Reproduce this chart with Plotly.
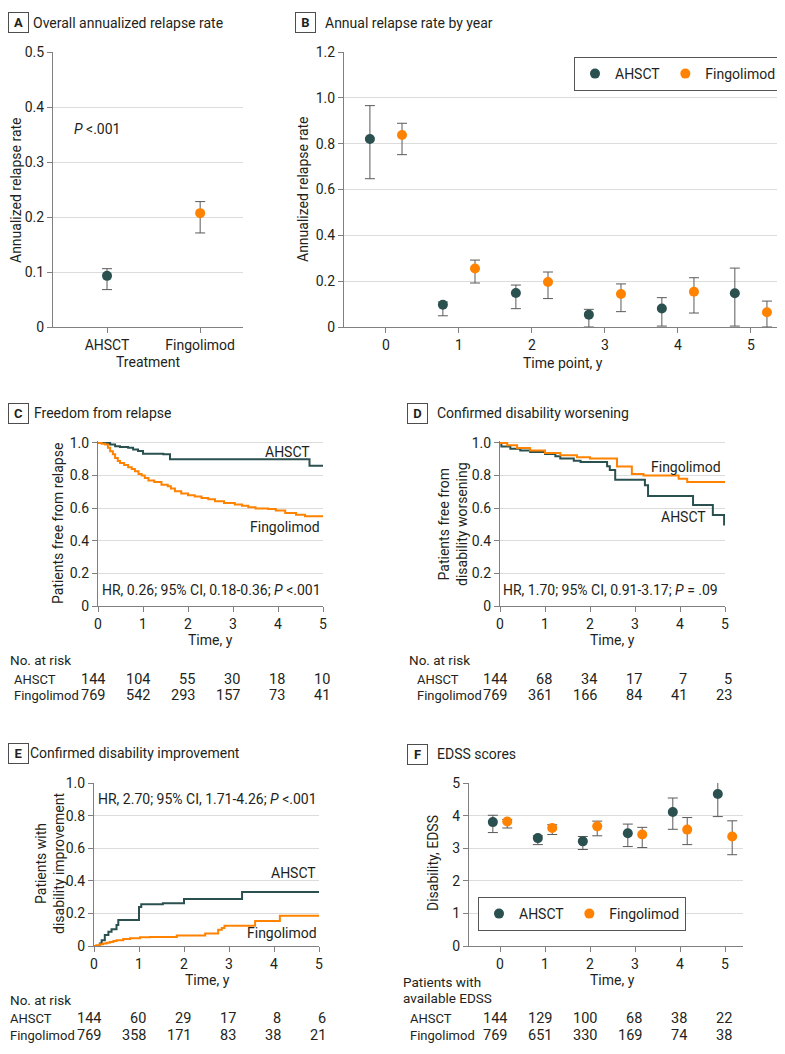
import plotly.graph_objects as go

# the page body adds an 8px margin, so the figure is drawn 8px smaller and
# every reference pixel position is shifted by OFF
OFF = 8
W, H = 785 - OFF, 1054 - OFF
AHSCT_COLOR = '#2b5050'
FINGO_COLOR = '#ff8200'
GRID = '#dcdcdc'
AXIS = '#808080'
TEXT = '#231f20'
ERR = '#5a5a5a'
FONT = 'Roboto, sans-serif'

# A - overall annualized relapse rate
treatments = ['AHSCT', 'Fingolimod']
arr_overall = [0.093, 0.207]
arr_overall_lo = [0.068, 0.171]
arr_overall_hi = [0.106, 0.228]

# B - annual relapse rate by year
years = [0, 1, 2, 3, 4, 5]
arr_ahsct = [0.82, 0.097, 0.148, 0.054, 0.081, 0.147]
arr_ahsct_lo = [0.647, 0.049, 0.080, 0.0, 0.004, 0.004]
arr_ahsct_hi = [0.966, 0.109, 0.183, 0.077, 0.128, 0.257]
arr_fingo = [0.838, 0.255, 0.196, 0.144, 0.154, 0.064]
arr_fingo_lo = [0.752, 0.192, 0.124, 0.067, 0.061, 0.0]
arr_fingo_hi = [0.889, 0.292, 0.240, 0.188, 0.215, 0.113]

# C - freedom from relapse (Kaplan-Meier)
relapse_t_ahsct = [0, 0.27, 0.38, 0.49, 0.67, 0.78, 0.89, 1.0, 1.45, 1.6, 4.7, 5.0]
relapse_s_ahsct = [1.0, 0.99, 0.98, 0.975, 0.97, 0.96, 0.95, 0.934, 0.93, 0.90, 0.86, 0.86]
relapse_t_fingo = [0, 0.08, 0.16, 0.22, 0.27, 0.33, 0.38, 0.44, 0.49, 0.58, 0.67, 0.75, 0.82,
                   0.9, 0.97, 1.04, 1.12, 1.25, 1.41, 1.55, 1.62, 1.71, 1.85, 2.0, 2.15, 2.3,
                   2.45, 2.6, 2.8, 3.04, 3.2, 3.34, 3.5, 3.78, 3.95, 4.16, 4.4, 4.6, 5.0]
relapse_s_fingo = [1.0, 0.995, 0.99, 0.97, 0.949, 0.93, 0.908, 0.89, 0.877, 0.865, 0.851, 0.84,
                   0.826, 0.81, 0.80, 0.785, 0.769, 0.76, 0.744, 0.735, 0.72, 0.704, 0.69, 0.679,
                   0.672, 0.663, 0.655, 0.642, 0.632, 0.622, 0.615, 0.605, 0.598, 0.595, 0.585,
                   0.571, 0.56, 0.55, 0.548]
relapse_risk_ahsct = [144, 104, 55, 30, 18, 10]
relapse_risk_fingo = [769, 542, 293, 157, 73, 41]

# D - confirmed disability worsening
worse_t_ahsct = [0, 0.03, 0.23, 0.45, 0.67, 1.0, 1.23, 1.34, 1.64, 1.79, 2.38, 2.44, 2.56,
                 3.22, 3.29, 4.29, 4.73, 4.98, 5.0]
worse_s_ahsct = [1.0, 0.978, 0.965, 0.953, 0.945, 0.933, 0.918, 0.905, 0.891, 0.883, 0.857,
                 0.834, 0.775, 0.74, 0.675, 0.62, 0.558, 0.50, 0.50]
worse_t_fingo = [0, 0.16, 0.38, 0.67, 1.0, 1.34, 1.71, 2.0, 2.6, 2.93, 3.19, 3.97, 4.16, 5.0]
worse_s_fingo = [1.0, 0.986, 0.969, 0.953, 0.939, 0.924, 0.912, 0.904, 0.855, 0.81, 0.80,
                 0.781, 0.76, 0.76]
worse_risk_ahsct = [144, 68, 34, 17, 7, 5]
worse_risk_fingo = [769, 361, 166, 84, 41, 23]

# E - confirmed disability improvement
improve_t_ahsct = [0, 0.13, 0.17, 0.24, 0.32, 0.39, 0.5, 0.54, 1.0, 1.05, 1.53, 2.0, 3.29, 5.0]
improve_s_ahsct = [0, 0.016, 0.036, 0.067, 0.088, 0.102, 0.129, 0.16, 0.24, 0.256, 0.262,
                   0.288, 0.331, 0.331]
improve_t_fingo = [0, 0.05, 0.13, 0.2, 0.28, 0.35, 0.43, 0.5, 0.65, 0.8, 1.02, 1.24, 1.84,
                   2.47, 2.76, 2.84, 2.9, 3.58, 4.13, 5.0]
improve_s_fingo = [0, 0.005, 0.01, 0.015, 0.02, 0.025, 0.03, 0.035, 0.043, 0.047, 0.053,
                   0.055, 0.064, 0.077, 0.099, 0.11, 0.125, 0.153, 0.186, 0.186]
improve_risk_ahsct = [144, 60, 29, 17, 8, 6]
improve_risk_fingo = [769, 358, 171, 83, 38, 21]

# F - EDSS scores
edss_ahsct = [3.80, 3.31, 3.21, 3.46, 4.11, 4.66]
edss_ahsct_lo = [3.48, 3.11, 2.96, 3.05, 3.58, 3.97]
edss_ahsct_hi = [4.01, 3.38, 3.36, 3.74, 4.54, 5.12]
edss_fingo = [3.82, 3.62, 3.67, 3.42, 3.57, 3.36]
edss_fingo_lo = [3.62, 3.42, 3.38, 3.02, 3.11, 2.80]
edss_fingo_hi = [3.88, 3.72, 3.83, 3.64, 3.94, 3.84]
edss_n_ahsct = [144, 129, 100, 68, 38, 22]
edss_n_fingo = [769, 651, 330, 169, 74, 38]


def px_x(p):
    return max(p - OFF, 0) / W


def px_y(p):
    return 1 - (p - OFF) / H


def err(vals, lo, hi):
    return dict(type='data', symmetric=False,
                array=[h - v for v, h in zip(vals, hi)],
                arrayminus=[v - l for v, l in zip(vals, lo)],
                color=ERR, thickness=1, width=5)


fig = go.Figure()

# A
for i, (name, color) in enumerate(zip(treatments, [AHSCT_COLOR, FINGO_COLOR])):
    fig.add_trace(go.Scatter(
        x=[i], y=[arr_overall[i]], mode='markers', xaxis='x', yaxis='y',
        marker=dict(color=color, size=10), showlegend=False,
        error_y=err([arr_overall[i]], [arr_overall_lo[i]], [arr_overall_hi[i]])))

# B
fig.add_trace(go.Scatter(
    x=[y - 0.22 for y in years], y=arr_ahsct, mode='markers', name='AHSCT',
    xaxis='x2', yaxis='y2', marker=dict(color=AHSCT_COLOR, size=10), legend='legend',
    error_y=err(arr_ahsct, arr_ahsct_lo, arr_ahsct_hi)))
fig.add_trace(go.Scatter(
    x=[y + 0.22 for y in years], y=arr_fingo, mode='markers', name='Fingolimod',
    xaxis='x2', yaxis='y2', marker=dict(color=FINGO_COLOR, size=10), legend='legend',
    error_y=err(arr_fingo, arr_fingo_lo, arr_fingo_hi)))

# C, D, E Kaplan-Meier curves
km = [
    ('3', relapse_t_ahsct, relapse_s_ahsct, relapse_t_fingo, relapse_s_fingo),
    ('4', worse_t_ahsct, worse_s_ahsct, worse_t_fingo, worse_s_fingo),
    ('5', improve_t_ahsct, improve_s_ahsct, improve_t_fingo, improve_s_fingo),
]
for ax, ta, sa, tf, sf in km:
    fig.add_trace(go.Scatter(x=ta, y=sa, mode='lines', line=dict(color=AHSCT_COLOR, width=2, shape='hv'),
                             xaxis='x' + ax, yaxis='y' + ax, showlegend=False))
    fig.add_trace(go.Scatter(x=tf, y=sf, mode='lines', line=dict(color=FINGO_COLOR, width=2, shape='hv'),
                             xaxis='x' + ax, yaxis='y' + ax, showlegend=False))

# F
fig.add_trace(go.Scatter(
    x=[y - 0.16 for y in years], y=edss_ahsct, mode='markers', name='AHSCT',
    xaxis='x6', yaxis='y6', marker=dict(color=AHSCT_COLOR, size=10), legend='legend2',
    error_y=err(edss_ahsct, edss_ahsct_lo, edss_ahsct_hi)))
fig.add_trace(go.Scatter(
    x=[y + 0.16 for y in years], y=edss_fingo, mode='markers', name='Fingolimod',
    xaxis='x6', yaxis='y6', marker=dict(color=FINGO_COLOR, size=10), legend='legend2',
    error_y=err(edss_fingo, edss_fingo_lo, edss_fingo_hi)))

base_axis = dict(showline=True, linecolor=AXIS, linewidth=1, ticks='outside', ticklen=5,
                 tickcolor=AXIS, tickwidth=1, tickfont=dict(size=14, color=TEXT),
                 zeroline=False, fixedrange=True, automargin=False)


def xax(left, right, rng, anchor, **kw):
    d = dict(base_axis, domain=[px_x(left), px_x(right)], range=rng, anchor=anchor, showgrid=False)
    d.update(kw)
    return d


def yax(top, bottom, rng, anchor, vals, labels):
    return dict(base_axis, domain=[px_y(bottom), px_y(top)], range=rng, anchor=anchor,
                showgrid=True, gridcolor=GRID, gridwidth=1, tickvals=vals, ticktext=labels)


km_vals = [0, 0.2, 0.4, 0.6, 0.8, 1.0]
km_labels = ['0', '0.2', '0.4', '0.6', '0.8', '1.0']

legend_style = dict(orientation='h', xanchor='right', yanchor='top',
                    bordercolor='#555555', borderwidth=1, bgcolor='white',
                    font=dict(size=14, color=TEXT), itemwidth=30, tracegroupgap=0)

fig.update_layout(
    width=W, height=H, margin=dict(l=0, r=0, t=0, b=0),
    plot_bgcolor='white', paper_bgcolor='white',
    font=dict(family=FONT, color=TEXT, size=14),
    xaxis=xax(53, 243, [-0.58, 1.46], 'y', tickvals=[0, 1], ticktext=treatments),
    yaxis=yax(52, 327, [0, 0.5], 'x', [0, 0.1, 0.2, 0.3, 0.4, 0.5],
              ['0', '0.1', '0.2', '0.3', '0.4', '0.5']),
    xaxis2=xax(344, 783, [-0.575, 5.44], 'y2', tickvals=years),
    yaxis2=yax(52, 327, [0, 1.2], 'x2', [0, 0.2, 0.4, 0.6, 0.8, 1.0, 1.2],
               ['0', '0.2', '0.4', '0.6', '0.8', '1.0', '1.2']),
    xaxis3=xax(98, 323, [0, 5], 'y3', tickvals=years),
    yaxis3=yax(441, 606, [0, 1.012], 'x3', km_vals, km_labels),
    xaxis4=xax(500, 725, [0, 5], 'y4', tickvals=years),
    yaxis4=yax(441, 606, [0, 1.012], 'x4', km_vals, km_labels),
    xaxis5=xax(94, 319, [0, 5], 'y5', tickvals=years),
    yaxis5=yax(783, 946, [0, 1.0], 'x5', km_vals, km_labels),
    xaxis6=xax(469, 743, [-0.69, 5.4], 'y6', tickvals=years),
    yaxis6=yax(783, 946, [0, 5], 'x6', [0, 1, 2, 3, 4, 5], ['0', '1', '2', '3', '4', '5']),
    legend=dict(legend_style, x=px_x(782), y=px_y(57)),
    legend2=dict(legend_style, x=px_x(686), y=px_y(897)),
)

ann = []


def text(x, y, s, size=14, xanchor='left', angle=0):
    ann.append(dict(x=px_x(x), y=px_y(y), xref='paper', yref='paper', text=s, showarrow=False,
                    xanchor=xanchor, yanchor='middle', textangle=angle,
                    font=dict(size=size, color=TEXT)))


def panel_title(x, y, letter, title):
    ann.append(dict(x=px_x(x), y=px_y(y), xref='paper', yref='paper', text='<b>%s</b>' % letter,
                    showarrow=False, xanchor='left', yanchor='middle', width=13, height=13,
                    bordercolor='#4d4d4d', borderwidth=1, borderpad=3, bgcolor='white',
                    font=dict(size=13, color=TEXT)))
    text(x + 28, y, title, size=14)


panel_title(3, 23, 'A', 'Overall annualized relapse rate')
panel_title(295, 23, 'B', 'Annual relapse rate by year')
panel_title(4, 413, 'C', 'Freedom from relapse')
panel_title(407, 413, 'D', 'Confirmed disability worsening')
panel_title(0, 753, 'E', 'Confirmed disability improvement')
panel_title(407, 754, 'F', 'EDSS scores')

# axis titles
text(16, 190, 'Annualized relapse rate', 14, 'center', -90)
text(148, 362, 'Treatment', 14, 'center')
text(303, 189, 'Annualized relapse rate', 14, 'center', -90)
text(563, 363, 'Time point, y', 14, 'center')
text(58, 524, 'Patients free from relapse', 14, 'center', -90)
text(210, 640, 'Time, y', 14, 'center')
text(453, 524, 'Patients free from<br>disability worsening', 14, 'center', -90)
text(612, 640, 'Time, y', 14, 'center')
text(50, 864, 'Patients with<br>disability improvement', 14, 'center', -90)
text(207, 980, 'Time, y', 14, 'center')
text(433, 863, 'Disability, EDSS', 14, 'center', -90)
text(612, 980, 'Time, y', 14, 'center')

# in-plot texts
text(72, 129, '<i>P</i> &lt;.001', 14)
text(312, 452, 'AHSCT', 14, 'right')
text(322, 527, 'Fingolimod', 14, 'right')
text(211, 590, 'HR, 0.26; 95% CI, 0.18-0.36; <i>P</i> &lt;.001', 14, 'center')
text(723, 467, 'Fingolimod', 14, 'right')
text(708, 517, 'AHSCT', 14, 'right')
text(610, 590, 'HR, 1.70; 95% CI, 0.91-3.17; <i>P</i> = .09', 14, 'center')
text(207, 799, 'HR, 2.70; 95% CI, 1.71-4.26; <i>P</i> &lt;.001', 14, 'center')
text(318, 873, 'AHSCT', 14, 'right')
text(319, 933, 'Fingolimod', 14, 'right')

# risk tables
tables = [
    ('x3', 4, 12, 660, 679, 695, ['No. at risk'], relapse_risk_ahsct, relapse_risk_fingo),
    ('x4', 407, 415, 660, 679, 695, ['No. at risk'], worse_risk_ahsct, worse_risk_fingo),
    ('x5', 0, 8, 1000, 1018, 1035, ['No. at risk'], improve_risk_ahsct, improve_risk_fingo),
    ('x6', 401, 408, 982, 1018, 1035, ['Patients with', 'available EDSS'], edss_n_ahsct, edss_n_fingo),
]
for xref, hx, lx, hy, ya, yf, header, ra, rf in tables:
    for k, line in enumerate(header):
        text(hx, hy + 16 * k, line, 13.5)
    text(lx, ya, 'AHSCT', 13)
    text(lx, yf, 'Fingolimod', 13)
    for yr, a, f in zip(years, ra, rf):
        for yy, v in [(ya, a), (yf, f)]:
            ann.append(dict(x=yr, y=px_y(yy), xref=xref, yref='paper', text=str(v),
                            showarrow=False, xanchor='right', yanchor='middle', xshift=9,
                            font=dict(size=14.5, color=TEXT)))

fig.update_layout(annotations=ann)

fig.write_html("out.html")
